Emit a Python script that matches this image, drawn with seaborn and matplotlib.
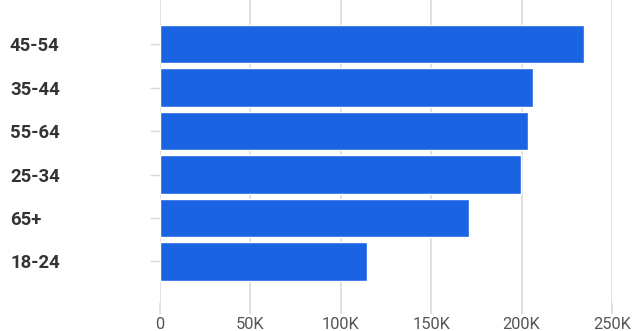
import matplotlib
matplotlib.use("Agg")
import matplotlib.pyplot as plt
import seaborn as sns
import pandas as pd

categories = ["45-54", "35-44", "55-64", "25-34", "65+", "18-24"]
values = [234300, 206100, 203300, 199700, 170900, 114500]
x_ticks = [0, 50000, 100000, 150000, 200000, 250000]
x_tick_labels = ["0", "50K", "100K", "150K", "200K", "250K"]

sns.set_theme(style="white")
plt.rcParams["font.family"] = ["Roboto", "DejaVu Sans"]

df = pd.DataFrame({"age": categories, "users": values})

fig = plt.figure(figsize=(6.42, 3.31), dpi=100)
ax = fig.add_axes([160 / 642, 1 - 303 / 331, (612 - 160) / 642, 303 / 331])

sns.barplot(data=df, x="users", y="age", order=categories, color="#1a63e3",
            saturation=1, width=0.885, ax=ax, zorder=3)

ax.set_xlim(0, 250000)
ax.set_ylim(5.955, -1.017)
ax.set_xticks(x_ticks)
ax.set_xticklabels(x_tick_labels)
ax.set_xlabel("")
ax.set_ylabel("")
for s in ax.spines.values():
    s.set_visible(False)
ax.grid(axis="x", color="#d9d9d9", linewidth=1.1, zorder=0)
ax.grid(axis="y", visible=False)
ax.set_axisbelow(True)

ax.tick_params(axis="x", length=8, width=1.1, color="#d9d9d9", pad=2,
               labelsize=11.8, labelcolor="#555555", bottom=True)
ax.tick_params(axis="y", length=7.2, width=1.0, color="#d9d9d9", pad=100.8,
               labelsize=13.3, labelcolor="#333333", left=True)
for lbl in ax.get_yticklabels():
    lbl.set_horizontalalignment("left")
    lbl.set_fontweight("semibold")

fig.savefig("out.png", dpi=100)
